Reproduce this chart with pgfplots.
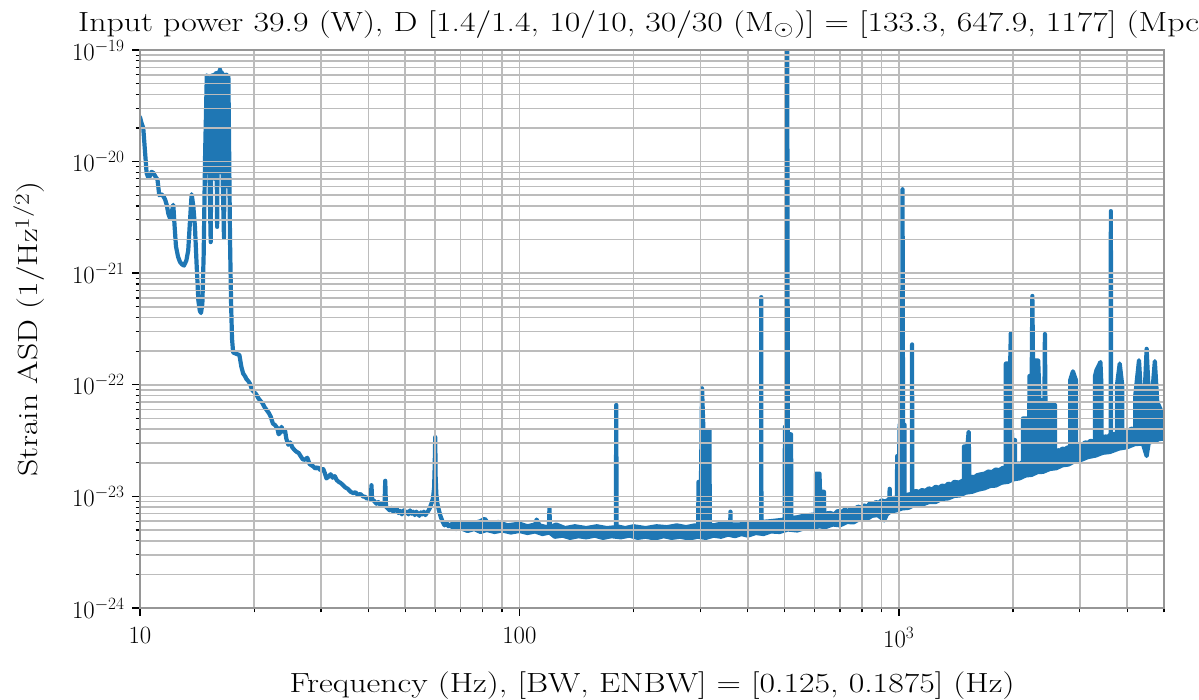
\documentclass[border=0pt]{standalone}
\usepackage{graphicx}
\usepackage{pgfplots}
\pgfplotsset{compat=1.18}
\usepgfplotslibrary{fillbetween}
\definecolor{tabblue}{RGB}{31,119,180}
\definecolor{gridgray}{RGB}{188,188,188}
\definecolor{spinegray}{RGB}{150,150,150}
\newcommand{\wide}[1]{\scalebox{1.22}[1]{#1}}
\begin{document}
\begin{tikzpicture}
\begin{axis}[
  at={(0,0)}, anchor=south west,
  scale only axis, width=1024bp, height=558bp,
  xmode=log, ymode=log,
  xmin=10, xmax=5000, ymin=1e-24, ymax=1e-19,
  axis on top,
  xtick={10,100,1000}, xticklabels={$10$,$100$,$10^3$},
  minor xtick={20,30,40,50,60,70,80,90,200,300,400,500,600,700,800,900,2000,3000,4000,5000},
  ytick={1e-24,1e-23,1e-22,1e-21,1e-20,1e-19},
  minor ytick={2e-24,3e-24,4e-24,5e-24,6e-24,7e-24,8e-24,9e-24,
               2e-23,3e-23,4e-23,5e-23,6e-23,7e-23,8e-23,9e-23,
               2e-22,3e-22,4e-22,5e-22,6e-22,7e-22,8e-22,9e-22,
               2e-21,3e-21,4e-21,5e-21,6e-21,7e-21,8e-21,9e-21,
               2e-20,3e-20,4e-20,5e-20,6e-20,7e-20,8e-20,9e-20},
  grid=both,
  major grid style={draw=gridgray, line width=1.5bp},
  minor grid style={draw=gridgray, line width=1.5bp},
  axis line style={draw=spinegray, line width=1.5bp},
  xtick pos=bottom, ytick pos=left,
  tick align=outside,
  major tick length=8bp, minor tick length=4.5bp,
  major tick style={black, line width=1.4bp},
  minor tick style={black, line width=1.1bp},
  tick label style={font=\fontsize{25}{30}\selectfont},
  xticklabel style={yshift=-8bp},
  yticklabel style={xshift=-4bp},
]
% low-frequency part
\addplot[tabblue, line width=4.2bp, line join=round, line cap=round] coordinates {
(10.0,2.5e-20) (10.1,2.2e-20) (10.2,2.0e-20) (10.41,7.9e-21) (10.51,7.2e-21)
(10.62,7.4e-21) (10.73,8.1e-21) (10.85,7.9e-21) (10.99,7.3e-21) (11.12,6.9e-21)
(11.24,5.0e-21) (11.38,5.1e-21) (11.52,4.9e-21) (11.64,4.6e-21) (11.76,4.1e-21)
(11.88,3.4e-21) (12.0,3.1e-21) (12.12,3.5e-21) (12.24,4.1e-21) (12.34,2.6e-21)
(12.44,1.74e-21) (12.6,1.4e-21) (12.75,1.26e-21) (12.9,1.2e-21) (13.06,1.17e-21)
(13.25,1.3e-21) (13.40,1.6e-21) (13.55,3.0e-21) (13.68,5.1e-21) (13.82,4.0e-21)
(13.96,2.6e-21) (14.1,1.2e-21) (14.25,5.7e-22) (14.38,4.6e-22) (14.48,4.4e-22)
(14.6,5.3e-22) (14.72,1.5e-21) (14.85,1.2e-20)
(15.00,5.9e-20) (15.08,8e-21) (15.16,5.6e-20) (15.26,6e-21) (15.36,1.9e-21)
(15.46,5.9e-20) (15.56,9e-21) (15.66,6.0e-20) (15.76,7e-21) (15.86,6.2e-20)
(15.97,2.6e-21) (16.07,6.3e-20) (16.16,1e-20) (16.25,6.7e-20) (16.34,8e-21)
(16.43,6.3e-20) (16.53,6e-21) (16.65,2.07e-21) (16.75,6.0e-20) (16.84,9e-21)
(16.92,6.0e-20) (17.01,6e-21) (17.10,5.8e-20) (17.18,1.2e-20)
(17.27,2.0e-21) (17.38,5.5e-22) (17.48,2.6e-22) (17.6,1.95e-22) (17.9,1.9e-22)
(18.28,1.85e-22) (18.5,1.45e-22) (18.71,1.26e-22) (18.9,1.2e-22) (19.1,1.12e-22)
(19.3,1.08e-22) (19.5,1.02e-22) (19.75,9.0e-23) (20.0,8.6e-23) (20.25,8.2e-23)
(20.5,7.6e-23) (20.75,7.2e-23) (21.0,6.9e-23) (21.3,6.3e-23) (21.6,5.9e-23)
(21.85,5.6e-23) (22.1,5.2e-23) (22.4,4.5e-23) (22.7,4.35e-23) (23.0,4.1e-23)
(23.2,3.6e-23) (23.38,3.7e-23) (23.6,4.2e-23) (23.85,3.8e-23) (24.1,3.95e-23)
(24.3,3.3e-23) (24.6,2.9e-23) (24.9,3.05e-23) (25.2,2.75e-23) (25.55,2.6e-23)
(25.9,2.5e-23) (26.2,2.45e-23) (26.5,2.3e-23) (26.85,2.15e-23) (27.2,2.13e-23)
(27.6,2.22e-23) (28.0,1.95e-23) (28.3,1.9e-23) (28.6,1.86e-23) (29.0,1.78e-23)
(29.4,1.82e-23) (29.9,1.72e-23) (30.4,1.76e-23) (30.7,1.62e-23) (31.0,1.45e-23)
(31.4,1.5e-23) (31.8,1.58e-23) (32.2,1.47e-23) (32.6,1.52e-23) (33.0,1.4e-23)
(33.4,1.35e-23) (33.8,1.32e-23) (34.3,1.26e-23) (34.8,1.2e-23) (35.3,1.17e-23)
(35.9,1.1e-23) (36.5,1.07e-23) (37.0,1.09e-23) (37.5,1.03e-23) (38.1,1.05e-23)
(38.7,1.0e-23) (39.2,9.9e-24) (39.7,9.5e-24) (40.2,9.8e-24) (40.6,9.4e-24)
(40.75,1.26e-23) (40.9,9.4e-24) (41.4,9.1e-24) (42.0,8.6e-24) (42.5,8.9e-24)
(43.0,8.4e-24) (43.6,8.6e-24) (44.1,8.2e-24) (44.3,1.38e-23) (44.5,8.1e-24)
(45.0,7.8e-24) (45.5,7.5e-24) (46.0,7.9e-24) (46.5,7.3e-24) (47.0,7.5e-24)
(47.5,7.8e-24) (48.0,7.1e-24) (48.5,7.4e-24) (49.0,6.9e-24) (49.5,7.5e-24)
(50.0,7.1e-24) (50.5,7.3e-24) (51.0,6.9e-24) (51.5,7.5e-24) (52.0,7.0e-24)
(52.5,7.3e-24) (53.0,6.8e-24) (53.5,7.3e-24) (54.0,7.0e-24) (54.5,6.7e-24)
(55.0,7.2e-24) (55.5,6.9e-24) (56.0,7.3e-24) (56.5,6.8e-24) (57.0,7.1e-24)
(57.5,7.4e-24) (58.0,7.8e-24) (58.6,8.6e-24) (59.2,9.6e-24) (59.6,1.2e-23)
(59.8,1.8e-23) (60.0,3.4e-23) (60.15,1.5e-23) (60.4,1.05e-23) (60.8,8.6e-24)
(61.3,7.6e-24) (62.0,6.6e-24) (62.8,5.9e-24) (63.5,5.5e-24) (64.3,5.8e-24)
(65.0,5.4e-24) (66,5.6e-24)
};
% upper envelope with lines
\addplot[tabblue, line width=4.2bp, line join=round, line cap=round, name path=up] coordinates {
(66,5.6e-24) (70,5.9e-24) (74,5.6e-24) (79,6.0e-24) (81,6.3e-24) (83,5.7e-24)
(88,5.9e-24) (93,5.5e-24) (100,5.7e-24) (105,5.4e-24) (110,5.6e-24) (111,6.2e-24)
(113,5.5e-24) (118,5.3e-24) (119.6,5.3e-24) (120,7.8e-24) (120.4,5.3e-24)
(125,5.6e-24) (132,5.2e-24) (140,5.4e-24) (150,5.2e-24) (160,5.4e-24) (170,5.2e-24)
(179.6,5.3e-24) (180,6.6e-23) (180.4,5.4e-24) (190,5.2e-24) (200,5.4e-24)
(215,5.2e-24) (230,5.4e-24) (245,5.3e-24) (260,5.5e-24) (275,5.3e-24) (290,5.5e-24)
(296,5.5e-24) (296.5,1.35e-23) (301,1.35e-23) (303,9.3e-23) (305.5,3.9e-23)
(317,3.9e-23) (317.5,5.6e-24) (325,5.5e-24) (340,5.7e-24) (359.5,5.6e-24)
(360,7.3e-24) (360.5,5.6e-24) (380,5.6e-24) (400,5.8e-24) (420,5.7e-24)
(433.6,5.9e-24) (434,6.1e-22) (434.4,5.9e-24) (460,6.0e-24) (480,6.1e-24)
(500,6.2e-24) (501,4.2e-23) (506,4.2e-23) (508,1.5e-19) (510,3.6e-23) (520,3.6e-23)
(521,6.4e-24) (540,6.5e-24) (560,6.7e-24) (580,6.8e-24) (604,6.9e-24)
(605,1.6e-23) (618,1.6e-23) (620,1.1e-23) (635,1.1e-23) (636,7.0e-24)
(660,7.1e-24) (675,6.9e-24) (690,7.4e-24) (705,7.2e-24) (720,7.6e-24) (735,7.4e-24)
(750,7.8e-24) (765,7.6e-24) (780,8.1e-24) (795,7.9e-24) (810,8.3e-24) (825,8.1e-24)
(840,8.7e-24) (855,8.5e-24) (870,8.9e-24) (885,8.7e-24) (900,9.2e-24) (920,9.0e-24)
(944,9.4e-24) (946,1.17e-23) (948,9.3e-24) (970,9.7e-24) (989,9.7e-24) (990,2.3e-23)
(1002,2.3e-23) (1005,4.4e-23) (1020,4.4e-23) (1023,5.65e-21) (1026,4.4e-23)
(1035,4.4e-23) (1036,1.0e-23) (1060,1.04e-23) (1083,1.05e-23) (1084,2.3e-22)
(1085,1.05e-23) (1110,1.12e-23) (1130,1.09e-23) (1150,1.14e-23) (1175,1.12e-23)
(1200,1.18e-23) (1225,1.15e-23) (1250,1.22e-23) (1275,1.19e-23) (1300,1.25e-23)
(1325,1.23e-23) (1350,1.3e-23) (1375,1.27e-23) (1400,1.35e-23) (1440,1.33e-23)
(1484,1.4e-23) (1485,2.8e-23) (1516,2.8e-23) (1528,3.8e-23) (1535,1.45e-23)
(1560,1.5e-23) (1580,1.48e-23) (1610,1.55e-23) (1650,1.58e-23) (1685,1.6e-23)
(1720,1.67e-23) (1760,1.65e-23) (1800,1.74e-23) (1840,1.72e-23) (1880,1.8e-23)
(1914,1.8e-23) (1915,1.55e-22)
(1966,1.55e-22) (1974,2.9e-22) (1980,5e-23) (1990,3.2e-23) (2025,3.2e-23)
(2026,1.9e-23) (2060,1.97e-23) (2090,1.95e-23) (2124,2.05e-23) (2125,5.0e-23)
(2175,5.0e-23) (2176,2.1e-23) (2205,2.1e-23) (2210,1.2e-22) (2240,1.2e-22)
(2249,6.25e-22) (2258,1.65e-22) (2330,1.65e-22) (2345,9e-23) (2350,2.2e-23)
(2370,2.3e-23) (2390,2.25e-23) (2391,7.3e-23) (2420,7.3e-23) (2427,2.85e-22) (2435,7e-23)
(2500,6.6e-23) (2580,6.6e-23) (2581,2.5e-23) (2620,2.6e-23) (2650,2.55e-23)
(2700,2.68e-23) (2740,2.65e-23) (2790,2.75e-23)
(2829,2.75e-23) (2830,1.1e-22) (2877,1.32e-22) (2930,1.1e-22) (2931,2.9e-23)
(2970,2.85e-23) (3000,2.95e-23) (3050,2.92e-23) (3100,3.05e-23) (3150,3.0e-23)
(3200,3.15e-23) (3250,3.1e-23) (3289,3.2e-23) (3290,1.2e-22)
(3318,1.35e-22) (3400,1.6e-22) (3420,1.0e-22) (3421,3.3e-23) (3460,3.35e-23) (3500,3.45e-23)
(3550,3.4e-23) (3600,3.55e-23) (3618,3.5e-23) (3622,3.6e-21) (3626,3.5e-23) (3660,3.62e-23)
(3700,3.6e-23) (3759,3.7e-23) (3760,1.0e-22) (3822,1.55e-22) (3880,1.0e-22) (3881,3.8e-23)
(3940,3.85e-23) (4000,3.95e-23) (4050,3.9e-23) (4100,4.05e-23) (4150,4.0e-23)
(4199,4.1e-23) (4200,8e-23) (4296,1.66e-22)
(4350,8e-23) (4450,9e-23) (4500,2.1e-22) (4560,8e-23) (4650,8e-23) (4730,1.63e-22)
(4800,7e-23) (4900,6e-23) (4920,4.6e-23) (5000,4.7e-23)
};
% lower envelope
\addplot[tabblue, line width=4.2bp, line join=round, line cap=round, name path=lo] coordinates {
(66,5.4e-24) (68,5.1e-24) (70,5.2e-24) (73,4.9e-24) (76,5.1e-24) (79,4.8e-24)
(82,5.0e-24) (86,4.8e-24) (90,4.95e-24) (95,4.75e-24) (100,4.9e-24) (105,4.7e-24)
(110,4.85e-24) (115,4.6e-24) (120,4.75e-24) (124,4.35e-24) (130,4.45e-24)
(136,4.25e-24) (143,4.4e-24) (150,4.3e-24) (158,4.45e-24) (166,4.25e-24)
(175,4.4e-24) (185,4.3e-24) (195,4.45e-24) (205,4.25e-24) (215,4.35e-24)
(228,4.2e-24) (240,4.4e-24) (252,4.25e-24) (265,4.35e-24) (280,4.2e-24)
(295,4.35e-24) (310,4.25e-24) (325,4.45e-24) (340,4.35e-24) (355,4.55e-24)
(370,4.4e-24) (385,4.6e-24) (400,4.45e-24) (420,4.7e-24) (440,4.6e-24)
(460,4.85e-24) (485,4.8e-24) (510,5.05e-24) (540,4.95e-24) (565,5.2e-24)
(590,5.1e-24) (615,5.4e-24) (640,5.3e-24) (670,5.6e-24) (700,5.5e-24)
(730,5.9e-24) (760,5.85e-24) (790,6.3e-24) (820,6.2e-24) (850,6.7e-24)
(880,6.8e-24) (900,6.4e-24) (915,6.1e-24) (930,6.9e-24) (950,7.3e-24)
(985,7.5e-24) (1020,7.8e-24) (1060,7.9e-24) (1100,8.4e-24) (1150,8.4e-24)
(1200,8.9e-24) (1250,8.9e-24) (1300,9.5e-24) (1350,9.6e-24) (1400,1.01e-23)
(1450,1.02e-23) (1500,1.08e-23) (1560,1.1e-23) (1620,1.15e-23) (1680,1.18e-23)
(1740,1.24e-23) (1800,1.25e-23) (1870,1.33e-23) (1940,1.35e-23) (2000,1.42e-23)
(2080,1.45e-23) (2160,1.54e-23) (2240,1.56e-23) (2320,1.65e-23) (2400,1.66e-23)
(2500,1.76e-23) (2600,1.79e-23) (2700,1.9e-23) (2800,1.93e-23) (2900,2.06e-23)
(3000,2.1e-23) (3150,2.25e-23) (3300,2.32e-23) (3450,2.46e-23) (3600,2.5e-23)
(3800,2.68e-23) (4000,2.76e-23) (4200,2.95e-23) (4400,2.96e-23) (4500,2.3e-23)
(4560,3.05e-23) (4700,3.1e-23) (4850,3.26e-23) (5000,3.3e-23)
};
\addplot[tabblue, draw=none] fill between[of=up and lo];
\end{axis}
\node[anchor=base west, font=\fontsize{27.8}{33}\selectfont, inner sep=0pt] at (-62bp,576bp)
  {\wide{Input power 39.9 (W), D [1.4/1.4, 10/10, 30/30 (M$_\odot$)] = [133.3, 647.9, 1177] (Mpc)}};
\node[anchor=base, font=\fontsize{27.8}{33}\selectfont, inner sep=0pt] at (512bp,-84bp)
  {\wide{Frequency (Hz), [BW, ENBW] = [0.125, 0.1875] (Hz)}};
\node[anchor=center, rotate=90, font=\fontsize{27.8}{33}\selectfont, inner sep=0pt] at (-111bp,279bp)
  {\wide{Strain ASD (1/Hz$^{1/2}$)}};
\pgfresetboundingbox
\path[use as bounding box] (-140bp,-92bp) rectangle (1059bp,608bp);
\end{tikzpicture}
\end{document}
